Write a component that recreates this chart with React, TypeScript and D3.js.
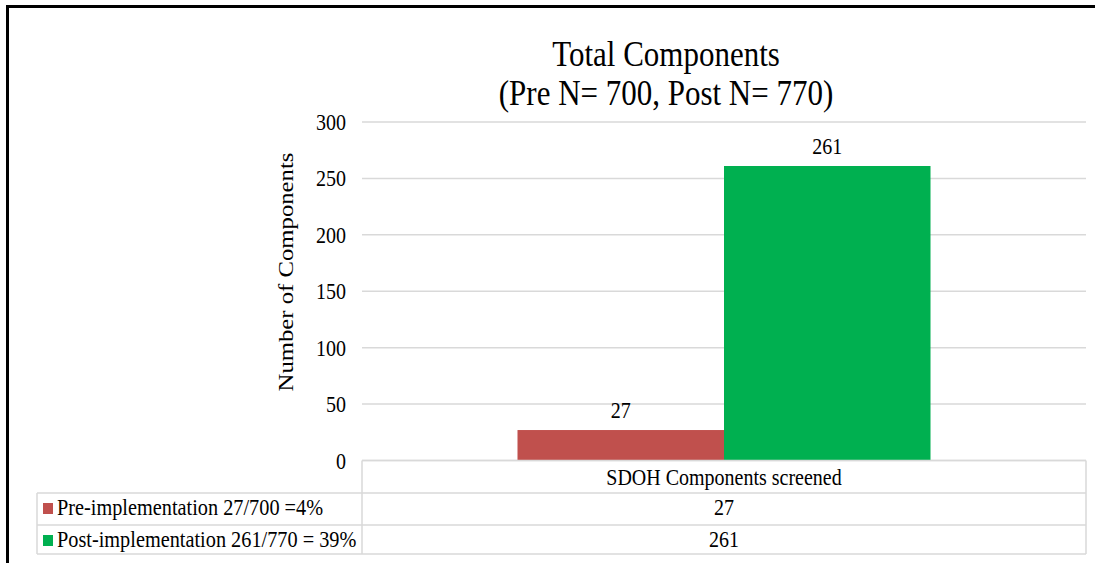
import React from "react";
import * as d3 from "d3";

// Data
const categories = ["SDOH Components screened"];
const seriesNames = ["Pre-implementation 27/700 =4%", "Post-implementation 261/770 = 39%"];
const seriesValues = [[27], [261]];
const seriesColors = ["#c0504d", "#00b050"];
const yTicks = [0, 50, 100, 150, 200, 250, 300];
const titleLines = ["Total Components", "(Pre N= 700, Post N= 770)"];
const yAxisTitle = "Number of Components";

const W = 1095;
const H = 563;
const FONT = "'Liberation Serif', 'Times New Roman', serif";
const SY = 1.15; // vertical text stretch

const plotLeft = 362;
const plotRight = 1086;
const plotTop = 122;
const plotBottom = 460.5;

const rowTops = [460.5, 493, 525, 554];
const tableLeft = 37;
const GRID = "#d9d9d9";

function T({ x, y, size, anchor = "middle", children, rotate = false }: any) {
  const tr = rotate
    ? `translate(${x},${y}) scale(1,${SY}) rotate(-90)`
    : `translate(${x},${y}) scale(1,${SY})`;
  return (
    <text transform={tr} fontSize={size} textAnchor={anchor} fontFamily={FONT} fill="#000">
      {children}
    </text>
  );
}

export default function App() {
  const x0 = d3
    .scaleBand<string>()
    .domain(categories)
    .range([plotLeft, plotRight])
    .paddingInner(0)
    .paddingOuter(0.3765);
  const x1 = d3
    .scaleBand<number>()
    .domain(seriesNames.map((_, i) => i))
    .range([0, x0.bandwidth()])
    .padding(0);
  const y = d3.scaleLinear().domain([0, 300]).range([plotBottom, plotTop]);

  return (
    <svg
      width={W}
      height={H}
      style={{ position: "fixed", left: 0, top: 0, background: "#fff" }}
    >
      <rect x={0} y={0} width={W} height={H} fill="#fff" />
      {/* outer frame: top and left edges */}
      <path d={`M7.5,${H} L7.5,6.5 L${W},6.5`} fill="none" stroke="#000" strokeWidth={3} />

      {/* title */}
      <T x={666} y={66} size={31}>{titleLines[0]}</T>
      <T x={666} y={105} size={31}>{titleLines[1]}</T>

      {/* gridlines */}
      {yTicks.map((t) => (
        <line
          key={t}
          x1={plotLeft}
          x2={plotRight}
          y1={y(t)}
          y2={y(t)}
          stroke={GRID}
          strokeWidth={1.5}
        />
      ))}
      {/* y tick labels */}
      {yTicks.map((t) => (
        <T key={"l" + t} x={346} y={y(t) + 8} size={20} anchor="end">
          {t}
        </T>
      ))}
      <T x={293} y={272} size={21.5} rotate>
        {yAxisTitle}
      </T>

      {/* bars */}
      {categories.map((c, ci) =>
        seriesValues.map((vals, si) => {
          const bx = (x0(c) as number) + (x1(si) as number);
          const v = vals[ci];
          return (
            <g key={c + si}>
              <rect
                x={bx}
                y={y(v)}
                width={x1.bandwidth()}
                height={y(0) - y(v)}
                fill={seriesColors[si]}
              />
              <T x={bx + x1.bandwidth() / 2} y={y(v) - 12} size={20}>
                {v}
              </T>
            </g>
          );
        })
      )}

      {/* data table */}
      <g stroke={GRID} strokeWidth={1.5} fill="none">
        <line x1={plotLeft} x2={plotRight} y1={rowTops[0]} y2={rowTops[0]} />
        <line x1={tableLeft} x2={plotRight} y1={rowTops[1]} y2={rowTops[1]} />
        <line x1={tableLeft} x2={plotRight} y1={rowTops[2]} y2={rowTops[2]} />
        <line x1={tableLeft} x2={plotRight} y1={rowTops[3]} y2={rowTops[3]} />
        <line x1={plotLeft} x2={plotLeft} y1={rowTops[0]} y2={rowTops[3]} />
        <line x1={plotRight} x2={plotRight} y1={rowTops[0]} y2={rowTops[3]} />
        <line x1={tableLeft} x2={tableLeft} y1={rowTops[1]} y2={rowTops[3]} />
      </g>
      {categories.map((c) => (
        <T key={"h" + c} x={(x0(c) as number) + x0.bandwidth() / 2} y={485} size={20}>
          {c}
        </T>
      ))}
      {seriesNames.map((name, si) => (
        <g key={"r" + si}>
          <rect
            x={43}
            y={rowTops[si + 1] + 10}
            width={10}
            height={11}
            fill={seriesColors[si]}
          />
          <T x={57} y={rowTops[si + 1] + 22} size={20.3} anchor="start">
            {name}
          </T>
          {categories.map((c, ci) => (
            <T
              key={c}
              x={(x0(c) as number) + x0.bandwidth() / 2}
              y={rowTops[si + 1] + 22}
              size={20}
            >
              {seriesValues[si][ci]}
            </T>
          ))}
        </g>
      ))}
    </svg>
  );
}
